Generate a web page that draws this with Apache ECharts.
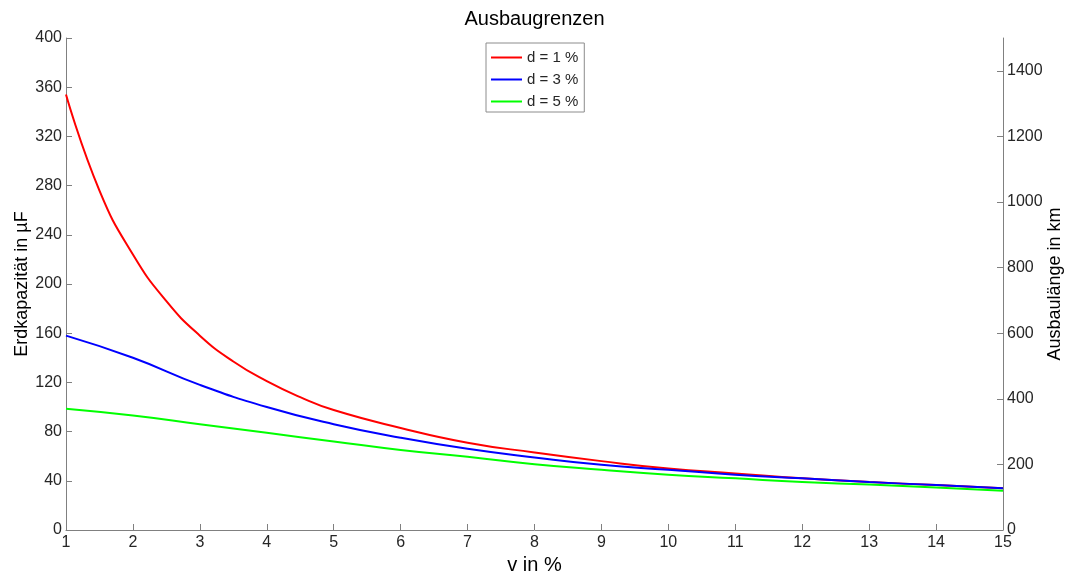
<!DOCTYPE html>
<html>
<head>
<meta charset="utf-8">
<script src="https://cdn.jsdelivr.net/npm/echarts@6/dist/echarts.min.js"></script>
<style>
  html, body { margin: 0; padding: 0; background: #fff; }
  #chart { width: 1069px; height: 574px; }
</style>
</head>
<body>
<div id="chart"></div>
<script>
// v in %
const vRed = [1, 1.5, 2, 2.5, 3, 3.5, 4, 4.5, 5, 6, 7, 8, 9, 10, 11, 12, 13, 14, 15];
const capRed = [354, 276, 224, 186, 158, 137, 121, 108, 97.5, 83, 71, 63, 56, 50, 46, 42, 39, 36.5, 34];
const vOther = [1, 2, 3, 4, 5, 6, 7, 8, 9, 10, 11, 12, 13, 14, 15];
const capBlue = [158, 140, 118, 100, 86, 75, 66, 59, 53, 49, 45, 42, 39, 36.5, 34];
const capGreen = [98.5, 93, 86, 79, 72, 65, 59.5, 53.5, 49, 45, 42, 39, 37, 34.5, 32];
const seriesNames = ["d = 1 %", "d = 3 %", "d = 5 %"];
const rightTicks = [0, 200, 400, 600, 800, 1000, 1200, 1400];

const pairs = (xs, ys) => xs.map((x, i) => [x, ys[i]]);

const font = "Liberation Sans, Arial, sans-serif";
const axisGray = "#808080";
const textColor = "#262626";

const lineSeries = (name, data, color) => ({
  name: name,
  type: "line",
  data: data,
  smooth: 0.5,
  symbol: "none",
  lineStyle: { color: color, width: 2 },
  itemStyle: { color: color },
});

const chart = echarts.init(document.getElementById("chart"));
chart.setOption({
  animation: false,
  backgroundColor: "#fff",
  title: {
    text: "Ausbaugrenzen",
    left: "center",
    top: 4,
    textStyle: { fontFamily: font, fontSize: 20, fontWeight: "normal", color: "#000" },
  },
  legend: {
    data: seriesNames,
    orient: "vertical",
    left: 486,
    top: 43,
    padding: [7, 6, 3, 5],
    itemGap: 7,
    itemWidth: 31,
    itemHeight: 2,
    icon: "rect",
    backgroundColor: "#fff",
    borderColor: "#8c8c8c",
    borderWidth: 1,
    textStyle: { fontFamily: font, fontSize: 15, color: textColor },
  },
  grid: { left: 66, right: 66, top: 38, bottom: 44, outerBoundsMode: "none" },
  xAxis: {
    type: "value",
    min: 1,
    max: 15,
    interval: 1,
    name: "v in %",
    nameLocation: "middle",
    nameGap: 23,
    nameTextStyle: { fontFamily: font, fontSize: 20, color: "#000" },
    axisLine: { lineStyle: { color: axisGray, width: 1 } },
    axisTick: { inside: true, length: 6, lineStyle: { color: axisGray } },
    axisLabel: { fontFamily: font, fontSize: 16, color: textColor, margin: 5 },
    splitLine: { show: false },
  },
  yAxis: [
    {
      type: "value",
      min: 0,
      max: 400,
      interval: 40,
      position: "left",
      name: "Erdkapazität in µF",
      nameLocation: "middle",
      nameGap: 35,
      nameMoveOverlap: false,
      nameTextStyle: { fontFamily: font, fontSize: 18, color: "#000" },
      axisLine: { show: true, lineStyle: { color: axisGray, width: 1 } },
      axisTick: { show: true, inside: true, length: 6, lineStyle: { color: axisGray } },
      axisLabel: { fontFamily: font, fontSize: 16, color: textColor, margin: 4 },
      splitLine: { show: false },
    },
    {
      type: "value",
      min: 0,
      max: 1500,
      position: "right",
      name: "Ausbaulänge in km",
      nameLocation: "middle",
      nameGap: 43,
      nameMoveOverlap: false,
      nameTextStyle: { fontFamily: font, fontSize: 18, color: "#000" },
      axisLine: { show: true, lineStyle: { color: axisGray, width: 1 } },
      axisTick: { show: true, inside: true, length: 6, customValues: rightTicks, lineStyle: { color: axisGray } },
      axisLabel: {
        fontFamily: font, fontSize: 16, color: textColor, margin: 4,
        customValues: rightTicks,
        formatter: (v) => String(v),
      },
      splitLine: { show: false },
    },
  ],
  series: [
    lineSeries(seriesNames[0], pairs(vRed, capRed), "#ff0000"),
    lineSeries(seriesNames[1], pairs(vOther, capBlue), "#0000ff"),
    lineSeries(seriesNames[2], pairs(vOther, capGreen), "#00ff00"),
  ],
});
</script>
</body>
</html>
